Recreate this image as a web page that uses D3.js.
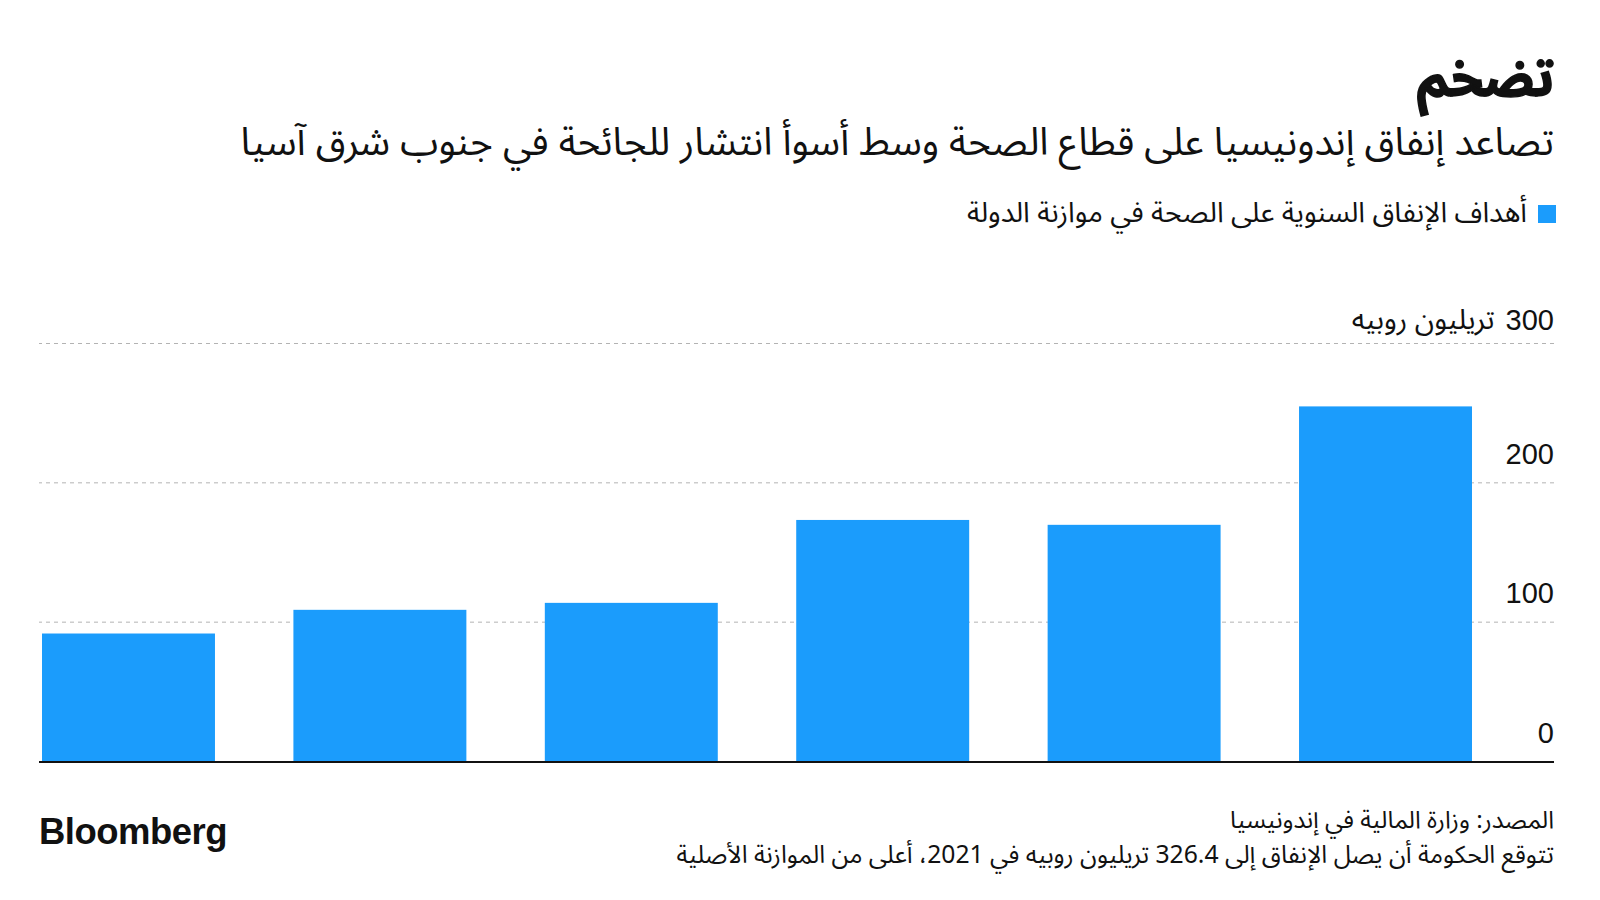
<!DOCTYPE html>
<html>
<head>
<meta charset="utf-8">
<script src="https://cdn.jsdelivr.net/npm/d3@7"></script>
<style>
  body { margin: 0; background: #fff; }
  svg { display: block; }
  text { font-family: "Noto Sans Arabic", "DejaVu Sans", sans-serif; fill: #111; }
</style>
</head>
<body>
<svg id="chart" width="1600" height="900"></svg>
<script>
// data
const categories = ["2016", "2017", "2018", "2019", "2020", "2021"];
const spending = [91.5, 108.5, 113.5, 173, 169.5, 254.5];
const yTicks = [0, 100, 200, 300];

const title = "تضخم";
const subtitle = "تصاعد إنفاق إندونيسيا على قطاع الصحة وسط أسوأ انتشار للجائحة في جنوب شرق آسيا";
const legendLabel = "أهداف الإنفاق السنوية على الصحة في موازنة الدولة";
const unitLabel = "تريليون روبيه";
const sourceText = "المصدر: وزارة المالية في إندونيسيا";
const noteText = "تتوقع الحكومة أن يصل الإنفاق إلى 326.4 تريليون روبيه في 2021، أعلى من الموازنة الأصلية";

const blue = "#1b9cfc";
const left = 39, right = 1554;

const svg = d3.select("#chart");

// fit a text to a target width by scaling its font size
const fitWidth = function(sel, target) {
  const w = sel.node().getComputedTextLength();
  const fs = parseFloat(sel.attr("font-size"));
  sel.attr("font-size", (fs * target / w).toFixed(2));
};

// right aligned arabic text
const rtlText = function(x, y, str, size, weight) {
  return svg.append("text")
    .attr("x", x).attr("y", y)
    .attr("direction", "rtl")
    .attr("text-anchor", "start")
    .attr("font-size", size)
    .attr("font-weight", weight || "normal")
    .text(str);
};

// header
const t = rtlText(right, 96, title, 56, "bold")
  .attr("stroke", "#111").attr("stroke-width", 1.5);
fitWidth(t, 137);
fitWidth(rtlText(right, 155, subtitle, 36), 1314);

svg.append("rect")
  .attr("x", 1538).attr("y", 205)
  .attr("width", 18).attr("height", 18)
  .attr("fill", blue);
fitWidth(rtlText(1527, 222, legendLabel, 24), 560);

// scales
const x = d3.scaleBand()
  .domain(categories)
  .range([42, 1472])
  .paddingInner(0.312)
  .paddingOuter(0);

const y = d3.scaleLinear()
  .domain([0, 300])
  .range([761, 343]);

// gridlines
const grid = svg.append("g")
  .attr("transform", `translate(${right},0)`)
  .call(d3.axisLeft(y).tickValues(yTicks.filter(d => d > 0)).tickSize(right - left).tickFormat(""));
grid.select(".domain").remove();
grid.selectAll("line")
  .attr("stroke", "#b3b3b3")
  .attr("stroke-dasharray", "4,4");

// bars
svg.append("g")
  .selectAll("rect")
  .data(spending)
  .join("rect")
  .attr("x", (d, i) => x(categories[i]))
  .attr("y", d => y(d))
  .attr("width", x.bandwidth())
  .attr("height", d => y(0) - y(d))
  .attr("fill", blue);

// zero line
svg.append("line")
  .attr("x1", left).attr("x2", right)
  .attr("y1", y(0) + 1).attr("y2", y(0) + 1)
  .attr("stroke", "#111")
  .attr("stroke-width", 2);

// tick labels
const yAxis = svg.append("g")
  .attr("transform", `translate(${right},0)`)
  .call(d3.axisLeft(y).tickValues(yTicks).tickSize(0).tickPadding(0));
yAxis.select(".domain").remove();
yAxis.selectAll("text")
  .attr("dy", d => (d === 300 ? -14 : -19))
  .attr("font-size", 29)
  .style("font-family", "'Liberation Sans', Arial, sans-serif")
  .attr("fill", "#111");

// unit next to the top tick
const topLabel = yAxis.selectAll(".tick").filter(d => d === 300).select("text").node().getBBox();
fitWidth(rtlText(right + topLabel.x - 11, y(300) - 14, unitLabel, 25), 143);

// footer
fitWidth(rtlText(right, 828, sourceText, 22), 324);
fitWidth(rtlText(right, 863, noteText, 22), 878);

const logo = svg.append("text")
  .attr("x", left).attr("y", 844)
  .attr("font-size", 36)
  .attr("font-weight", "bold")
  .style("font-family", "'Liberation Sans', Arial, sans-serif")
  .style("letter-spacing", "-0.5px")
  .text("Bloomberg");
fitWidth(logo, 188);
</script>
</body>
</html>
